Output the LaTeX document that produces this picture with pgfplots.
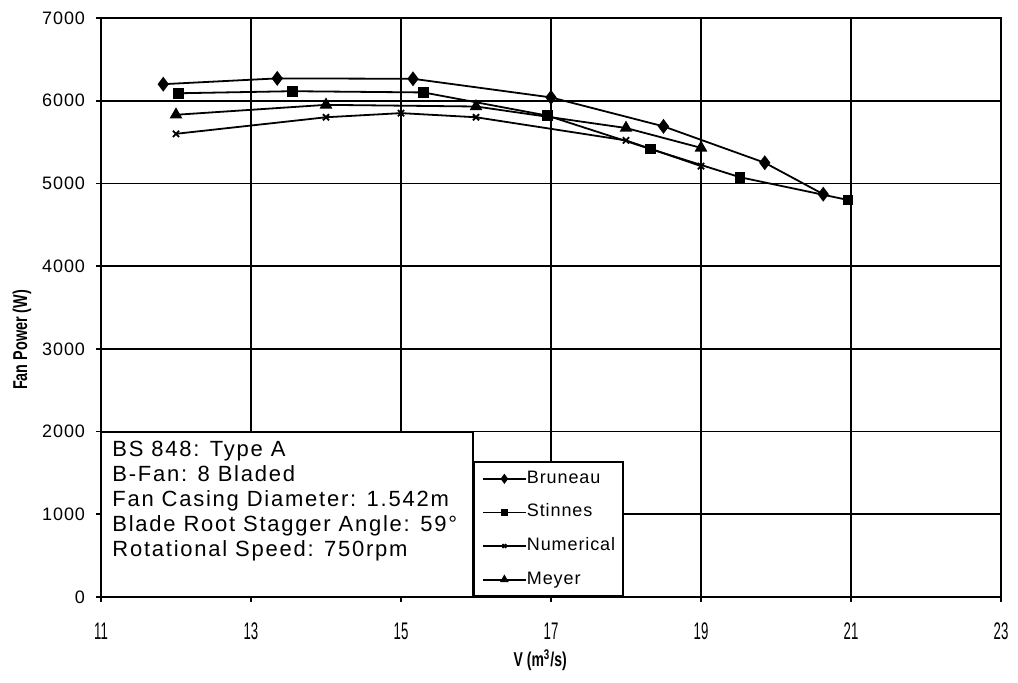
\documentclass[border=0pt]{standalone}
\usepackage{fontspec}
\setmainfont{Liberation Sans}
\newfontfamily\boxfont[LetterSpace=8]{Liberation Sans}
\newfontfamily\legfont[LetterSpace=5]{Liberation Sans}
\newfontfamily\yfont[LetterSpace=5]{Liberation Sans}
\newfontfamily\xfont[FakeStretch=0.55]{Liberation Sans}
\newfontfamily\ylabfont[FakeStretch=0.72]{Liberation Sans}
\newfontfamily\xlabfont[FakeStretch=0.7]{Liberation Sans}
\usepackage{pgfplots}
\pgfplotsset{compat=1.18}

\begin{document}
\begin{tikzpicture}
\begin{axis}[
  scale only axis, width=450pt, height=289.5pt,
  xmin=11, xmax=23, ymin=0, ymax=7000,
  xtick={11,13,...,23}, ytick={0,1000,...,7000},
  grid=major, major grid style={black, line width=0.85pt},
  axis line style={black, line width=0.85pt},
  tick style={black, line width=0.85pt},
  tick align=outside, major tick length=2.5pt,
  xtick pos=left, ytick pos=left,
  /pgf/number format/assume math mode=true,
  /pgf/number format/1000 sep={},
  xticklabel style={font=\xfont\fontsize{12}{12}\selectfont, yshift=-7pt},
  yticklabel style={font=\yfont\fontsize{9}{10}\selectfont, xshift=-2pt},
  xlabel={V (m\textsuperscript{3}/s)},
  ylabel={Fan Power (W)},
  xlabel style={at={(axis description cs:0.488,-0.109)}, anchor=center,
    font=\xlabfont\bfseries\fontsize{10}{10}\selectfont},
  ylabel style={at={(axis description cs:-0.0878,0.444)}, anchor=center,
    font=\ylabfont\bfseries\fontsize{10}{10}\selectfont},
  legend entries={Bruneau,Stinnes,Numerical,Meyer},
  legend cell align=left,
  legend image code/.code={
    \draw[mark repeat=2,mark phase=2] plot coordinates {(0cm,0cm) (0.38cm,0cm) (0.76cm,0cm)};},
  legend image post style={/tikz/every mark/.append style={scale=0.6}},
  legend style={at={(axis cs:15.96,0)}, anchor=south west,
    draw=black, line width=0.85pt, fill=white,
    font=\legfont\fontsize{9}{10}\selectfont,
    nodes={inner sep=0pt, text height=6.5pt, text depth=2pt},
    row sep=8.3pt, inner xsep=4pt, inner ysep=4pt,
    /tikz/every even column/.append style={column sep=2pt}},
]
\draw[black, line width=0.85pt, fill=white] (axis cs:11,0) rectangle (axis cs:15.96,1990);
\node[anchor=north west, align=left, inner sep=0pt, xshift=5.5pt, yshift=-4pt,
  font=\boxfont\fontsize{11}{12.5}\selectfont] at (axis cs:11,1990)
  {BS 848: Type A\\B-Fan: 8 Bladed\\Fan Casing Diameter: 1.542m\\Blade Root Stagger Angle: 59°\\Rotational Speed: 750rpm};

% Bruneau
\addplot[black, line width=0.9pt, mark=diamond*, mark size=3pt] coordinates {
  (11.83,6200) (13.35,6270) (15.16,6265) (17.0,6040) (18.5,5690) (19.85,5250) (20.63,4870)};
% Stinnes
\addplot[black, line width=0.9pt, mark=square*, mark size=2.2pt] coordinates {
  (12.03,6090) (13.55,6115) (15.3,6100) (16.95,5820) (18.33,5415) (19.52,5075) (20.96,4800)};
% Numerical
\addplot[black, line width=0.9pt, mark=x, mark size=2.2pt] coordinates {
  (12,5600) (14,5800) (15,5850) (16,5800) (18,5520) (19,5210)};
% Meyer
\addplot[black, line width=0.9pt, mark=triangle*, mark size=2.8pt] coordinates {
  (12,5830) (14,5950) (16,5930) (18,5670) (19,5430)};
\end{axis}
\pgfresetboundingbox
\path (-50.5pt,-43pt) rectangle (458.5pt,298.5pt);
\end{tikzpicture}
\end{document}
